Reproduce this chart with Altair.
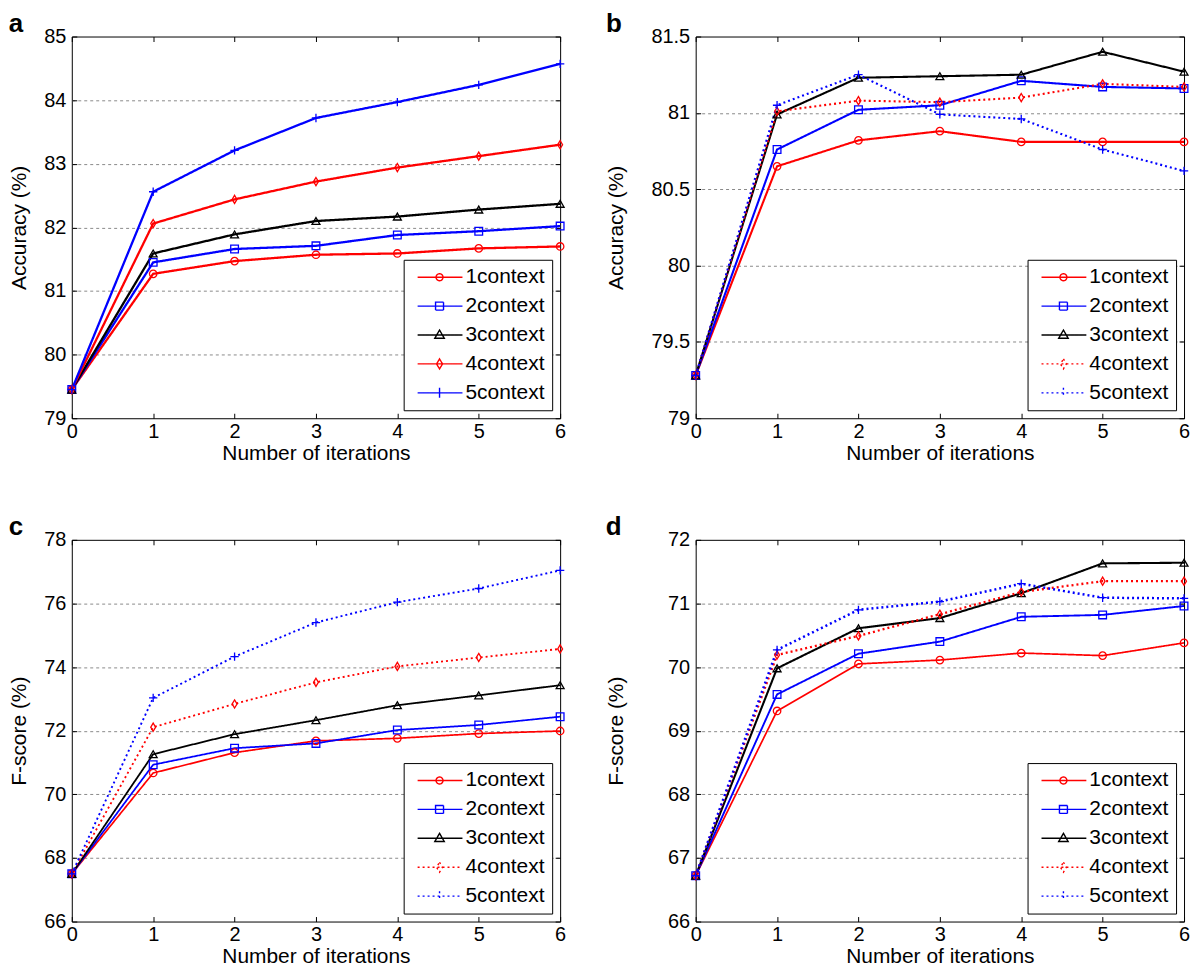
import altair as alt
import pandas as pd

FONT = "Liberation Sans, Arial, Helvetica, sans-serif"

iterations = [0, 1, 2, 3, 4, 5, 6]
series_names = ["1context", "2context", "3context", "4context", "5context"]

# panel a: Accuracy (%)
a_1 = [79.45, 81.27, 81.47, 81.57, 81.59, 81.67, 81.70]
a_2 = [79.45, 81.45, 81.66, 81.71, 81.88, 81.94, 82.02]
a_3 = [79.45, 81.59, 81.89, 82.10, 82.17, 82.28, 82.37]
a_4 = [79.45, 82.06, 82.44, 82.72, 82.94, 83.12, 83.30]
a_5 = [79.45, 82.56, 83.21, 83.72, 83.97, 84.24, 84.57]

# panel b: Accuracy (%)
b_1 = [79.28, 80.65, 80.82, 80.88, 80.81, 80.81, 80.81]
b_2 = [79.28, 80.76, 81.02, 81.05, 81.21, 81.17, 81.16]
b_3 = [79.28, 80.99, 81.23, 81.24, 81.25, 81.40, 81.27]
b_4 = [79.28, 81.01, 81.08, 81.07, 81.10, 81.19, 81.17]
b_5 = [79.28, 81.05, 81.25, 80.99, 80.96, 80.76, 80.62]

# panel c: F-score (%)
c_1 = [67.50, 70.67, 71.31, 71.68, 71.76, 71.91, 71.99]
c_2 = [67.50, 70.93, 71.45, 71.60, 72.02, 72.18, 72.44]
c_3 = [67.50, 71.26, 71.89, 72.33, 72.80, 73.11, 73.43]
c_4 = [67.50, 72.11, 72.84, 73.52, 74.02, 74.30, 74.57]
c_5 = [67.50, 73.03, 74.33, 75.40, 76.04, 76.47, 77.04]

# panel d: F-score (%)
d_1 = [66.72, 69.31, 70.05, 70.11, 70.22, 70.18, 70.38]
d_2 = [66.72, 69.57, 70.21, 70.40, 70.79, 70.82, 70.96]
d_3 = [66.72, 69.98, 70.61, 70.77, 71.16, 71.63, 71.64]
d_4 = [66.72, 70.19, 70.49, 70.83, 71.18, 71.35, 71.35]
d_5 = [66.72, 70.27, 70.90, 71.03, 71.31, 71.09, 71.08]

a_ticks = [79, 80, 81, 82, 83, 84, 85]
b_ticks = [79, 79.5, 80, 80.5, 81, 81.5]
c_ticks = [66, 68, 70, 72, 74, 76, 78]
d_ticks = [66, 67, 68, 69, 70, 71, 72]

COLORS = ["#ff0000", "#0000ff", "#000000", "#ff0000", "#0000ff"]
DIAMOND = "M0,-1L0.6,0L0,1L-0.6,0Z"
PLUS = "M-1,0H1M0,-1V1"
POINT_SHAPES = ["circle", "square", "triangle-up", DIAMOND, PLUS]
POINT_SIZES = [56, 70, 90, 110, 120]

cx = 3.7
LEG_LINE = "M-0.7,0H8.3"
LEGEND_SHAPES = [
    f"{LEG_LINE}M{cx-0.7},0A0.7,0.7 0 1,0 {cx+0.7},0A0.7,0.7 0 1,0 {cx-0.7},0",
    f"{LEG_LINE}M{cx-0.8},-0.8H{cx+0.8}V0.8H{cx-0.8}Z",
    f"{LEG_LINE}M{cx},-1L{cx+0.95},0.65H{cx-0.95}Z",
    f"{LEG_LINE}M{cx},-1L{cx+0.6},0L{cx},1L{cx-0.6},0Z",
    f"{LEG_LINE}M{cx},-1V1",
]

SOLID = [1, 0]
DOT = [2, 3]
W, H = 490, 383


def panel(letter, lists, ytitle, ticks, widths, dashes, title_pad):
    rows = []
    for name, vals in zip(series_names, lists):
        for it, v in zip(iterations, vals):
            rows.append({"iteration": it, "value": v, "series": name})
    df = pd.DataFrame(rows)
    ymin, ymax = ticks[0], ticks[-1]
    xs = alt.Scale(domain=[0, 6], nice=False, zero=False)
    ys = alt.Scale(domain=[ymin, ymax], nice=False, zero=False)
    cscale = alt.Scale(domain=series_names, range=COLORS)
    dscale = alt.Scale(domain=series_names, range=dashes)

    base = alt.Chart(df)

    lines = base.mark_line().encode(
        x=alt.X("iteration:Q", scale=xs,
                axis=alt.Axis(orient="bottom", values=iterations, title="Number of iterations",
                              offset=-5, tickSize=5, labelPadding=3, titlePadding=1,
                              labelFlush=False, grid=False, domain=False, format="d", minExtent=0)),
        y=alt.Y("value:Q", scale=ys,
                axis=alt.Axis(orient="left", values=ticks, title=ytitle, format="~g",
                              offset=-5, tickSize=5, labelPadding=6, titlePadding=title_pad,
                              grid=True, gridDash=[3, 3], gridColor="#8a8a8a",
                              gridOpacity={"condition": {"test": f"datum.value <= {ymin} || datum.value >= {ymax}", "value": 0}, "value": 1},
                              domain=False, minExtent=0)),
        color=alt.Color("series:N", scale=cscale, legend=None),
        strokeDash=alt.StrokeDash("series:N", scale=dscale, legend=None),
        strokeWidth=alt.StrokeWidth("series:N", scale=alt.Scale(domain=series_names, range=widths), legend=None),
    )

    points = base.mark_point(filled=False, strokeWidth=1.3, opacity=1).encode(
        x=alt.X("iteration:Q", scale=xs,
                axis=alt.Axis(orient="top", values=iterations, title=None, labels=False,
                              offset=-5, tickSize=5, grid=False, domain=False, minExtent=0)),
        y=alt.Y("value:Q", scale=ys,
                axis=alt.Axis(orient="right", values=ticks, title=None, labels=False,
                              offset=-5, tickSize=5, grid=False, domain=False, minExtent=0)),
        color=alt.Color("series:N", scale=cscale, legend=None),
        shape=alt.Shape("series:N", scale=alt.Scale(domain=series_names, range=POINT_SHAPES), legend=None),
        size=alt.Size("series:N", scale=alt.Scale(domain=series_names, range=POINT_SIZES), legend=None),
    )

    leg = alt.Legend(title=None, orient="bottom-right", offset=8, padding=7,
                     strokeColor="black", fillColor="white", labelFont=FONT,
                     labelFontSize=21, labelColor="black", symbolSize=100,
                     symbolStrokeWidth=1.4, labelOffset=34, rowPadding=7,
                     symbolOpacity=1, cornerRadius=0, labelLimit=200)

    dummy = base.mark_point(filled=False, opacity=0, clip=True).encode(
        x=alt.X("iteration:Q", scale=xs, axis=None),
        y=alt.Y("value:Q", scale=ys, axis=None),
        color=alt.Color("series:N", scale=cscale, legend=leg),
        shape=alt.Shape("series:N", scale=alt.Scale(domain=series_names, range=LEGEND_SHAPES), legend=leg),
        strokeDash=alt.StrokeDash("series:N", scale=dscale, legend=leg),
    )

    return alt.layer(lines, points, dummy).resolve_axis(
        x="independent", y="independent"
    ).resolve_scale(
        color="independent", shape="independent", strokeDash="independent",
        size="independent", strokeWidth="independent"
    ).properties(
        width=W, height=H,
        title=alt.TitleParams(letter, anchor="start", frame="bounds", fontSize=26,
                              fontWeight="bold", font=FONT, color="black", offset=-10),
    )


pa = panel("a", [a_1, a_2, a_3, a_4, a_5], "Accuracy (%)", a_ticks,
           [2.3, 2.3, 1.7, 2.5, 2.0], [SOLID] * 5, 14)
pb = panel("b", [b_1, b_2, b_3, b_4, b_5], "Accuracy (%)", b_ticks,
           [2.1, 2.1, 2.3, 1.8, 1.8], [SOLID, SOLID, SOLID, DOT, DOT], 24)
pc = panel("c", [c_1, c_2, c_3, c_4, c_5], "F-score (%)", c_ticks,
           [1.7, 1.9, 2.9, 1.7, 2.0], [SOLID, SOLID, SOLID, DOT, DOT], 14)
pd_ = panel("d", [d_1, d_2, d_3, d_4, d_5], "F-score (%)", d_ticks,
            [1.7, 2.5, 2.3, 1.7, 2.0], [SOLID, SOLID, SOLID, DOT, DOT], 41)

top = alt.hconcat(pa, pb, spacing=37)
bottom = alt.hconcat(pc, pd_, spacing=37)

chart = alt.vconcat(top, bottom, spacing=49).properties(
    padding={"left": 0, "top": 0, "right": 0, "bottom": 0},
    background="white",
).configure_view(
    stroke="black", strokeWidth=1
).configure_axis(
    labelFont=FONT, titleFont=FONT, labelFontSize=20, titleFontSize=21,
    labelColor="black", titleColor="black", titleFontWeight="normal",
    tickColor="black", tickWidth=1
)

chart.save("out.html", embed_options={"renderer": "svg", "actions": False})
